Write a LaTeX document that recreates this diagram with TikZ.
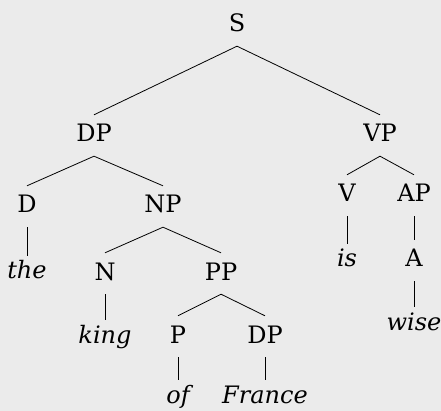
\documentclass[tikz,border=0pt]{standalone}
\usepackage{fontspec}
\setmainfont{DejaVu Serif}
\definecolor{bgcol}{HTML}{EBEBEB}
\begin{document}
\begin{tikzpicture}[x=1pt,y=-1pt]
    % Node styles
    \tikzset{cat/.style={anchor=base,font=\fontsize{24}{28}\selectfont,
        text height=18pt,text depth=5pt,inner ysep=9pt,inner xsep=2pt},
      word/.style={cat,font=\fontsize{24}{28}\selectfont\itshape,inner ysep=5pt},
      branch/.style={line width=0.8pt}}

    % --- Background ---
    \fill[bgcol] (0,0) rectangle (441,411);
    \useasboundingbox (0,0) rectangle (441,411);

    % --- Categories ---
    \node[cat] (s) at (237,32) {S};
    \node[cat] (dp) at (94,142) {DP};
    \node[cat] (vp) at (380,142) {VP};
    \node[cat] (d) at (27,213) {D};
    \node[cat] (np) at (163,213) {NP};
    \node[cat] (v) at (347,202) {V};
    \node[cat] (ap) at (414,202) {AP};
    \node[cat] (n) at (105,280) {N};
    \node[cat] (pp) at (221,280) {PP};
    \node[cat] (a) at (414,267) {A};
    \node[cat] (p) at (178,343) {P};
    \node[cat] (dp2) at (265,343) {DP};

    % --- Words ---
    \node[word] (the) at (27,279) {the};
    \node[word] (is) at (347,267) {is};
    \node[word] (king) at (105,343) {king};
    \node[word] (wise) at (414,330) {wise};
    \node[word] (of) at (178,403) {of};
    \node[word] (france) at (265,403) {France};

    % --- Branches ---
    \draw[branch] (dp.north) -- (s.south) -- (vp.north);
    \draw[branch] (d.north) -- (dp.south) -- (np.north);
    \draw[branch] (v.north) -- (vp.south) -- (ap.north);
    \draw[branch] (n.north) -- (np.south) -- (pp.north);
    \draw[branch] (p.north) -- (pp.south) -- (dp2.north);

    % --- Lexical branches ---
    \draw[branch] (d.south) -- (the.north);
    \draw[branch] (v.south) -- (is.north);
    \draw[branch] (ap.south) -- (a.north);
    \draw[branch] (n.south) -- (king.north);
    \draw[branch] (a.south) -- (wise.north);
    \draw[branch] (p.south) -- (of.north);
    \draw[branch] (dp2.south) -- (france.north);

\end{tikzpicture}
\end{document}
